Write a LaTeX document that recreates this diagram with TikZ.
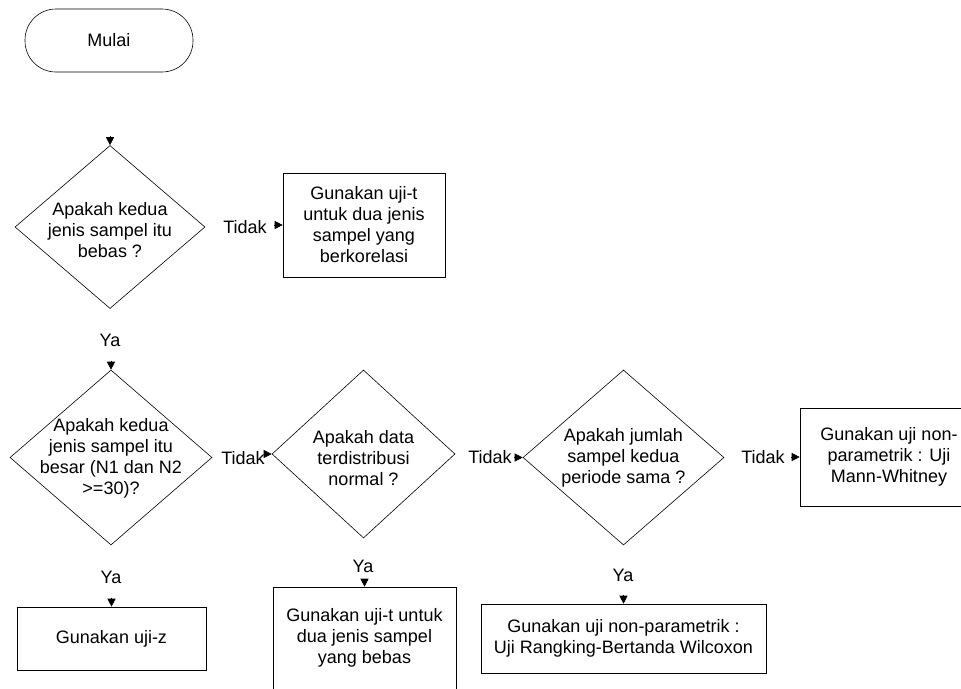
\documentclass[tikz,border=0pt]{standalone}
\usepackage{fontspec}
\setmainfont{Liberation Sans}
\usetikzlibrary{shapes.geometric,arrows.meta}
\tikzset{every node/.style={inner sep=0pt,align=center}}
\tikzset{term/.style={draw,rectangle,rounded corners=31pt,minimum width=168pt,minimum height=63pt}}
\tikzset{decision/.style={draw,diamond}}
\tikzset{proc/.style={draw,rectangle}}
\tikzset{arr/.style={-{Triangle[length=8pt,width=8pt]}}}

\begin{document}
\begin{tikzpicture}[x=1pt,y=-1pt,font=\fontsize{18}{21}\selectfont,line width=0.6pt]
      \useasboundingbox (0,0) rectangle (961,688);
      \clip (0,0) rectangle (961,688);
      \node[term] (start) at (109,40.5) {Mulai};
      % pertanyaan
      \node[decision,minimum width=190pt,minimum height=163pt] (D1) at (110,227) {};
      \node (D1t) at (110,230) {Apakah kedua\\jenis sampel itu\\bebas ?};
      \node[decision,minimum width=202pt,minimum height=175pt] (D2) at (111,457.5) {};
      \node (D2t) at (111,458) {Apakah kedua\\jenis sampel itu\\besar (N1 dan N2\\>=30)?};
      \node[decision,minimum width=183pt,minimum height=168pt] (D3) at (363.5,454) {};
      \node (D3t) at (363.5,458) {Apakah data\\terdistribusi\\normal ?};
      \node[decision,minimum width=201pt,minimum height=175pt] (D4) at (623.5,457.5) {};
      \node (D4t) at (623.5,458) {Apakah jumlah\\sampel kedua\\periode sama ?};
      % hasil
      \node[proc,minimum width=162pt,minimum height=104pt] (B1) at (364,225) {Gunakan uji-t\\untuk dua jenis\\sampel yang\\berkorelasi};
      \node[proc,minimum width=189pt,minimum height=63pt] (B2) at (111.5,638.5) {Gunakan uji-z};
      \node[proc,minimum width=183pt,minimum height=102pt] (B3) at (364.5,638) {Gunakan uji-t untuk\\dua jenis sampel\\yang bebas};
      \node[proc,minimum width=178pt,minimum height=98pt] (B5) at (889,457) {Gunakan uji non-\\parametrik : Uji\\Mann-Whitney};
      \node[proc,minimum width=285pt,minimum height=69pt] (B6) at (623.5,638.5) {Gunakan uji non-parametrik :\\Uji Rangking-Bertanda Wilcoxon};
      % label
      \node (T1) at (245,227) {Tidak};
      \node (T2) at (243,458) {Tidak};
      \node (T3) at (490,457) {Tidak};
      \node (T4) at (763,457) {Tidak};
      \node (Y1) at (110,340) {Ya};
      \node (Y2) at (363,566) {Ya};
      \node (Y3) at (111,577) {Ya};
      \node (Y4) at (623,575) {Ya};
      % panah
      \coordinate (A1) at ([yshift=9pt]D1.north);
      \coordinate (A2) at ([xshift=-9pt]B1.west);
      \coordinate (A3) at ([yshift=9pt]D2.north);
      \coordinate (A4) at ([xshift=-7pt]D3.west);
      \coordinate (A5) at ([yshift=7pt]B3.north);
      \coordinate (A6) at ([yshift=9pt]B2.north);
      \coordinate (A7) at ([xshift=-9pt]D4.west);
      \coordinate (A8) at ([xshift=-9pt]B5.west);
      \coordinate (A9) at ([yshift=9pt]B6.north);
      \foreach \a/\b in {A1/D1.north,A2/B1.west,A3/D2.north,A4/D3.west,A5/B3.north,
                         A6/B2.north,A7/D4.west,A8/B5.west,A9/B6.north}
        \draw[arr] (\a) -- (\b);
\end{tikzpicture}
\end{document}
